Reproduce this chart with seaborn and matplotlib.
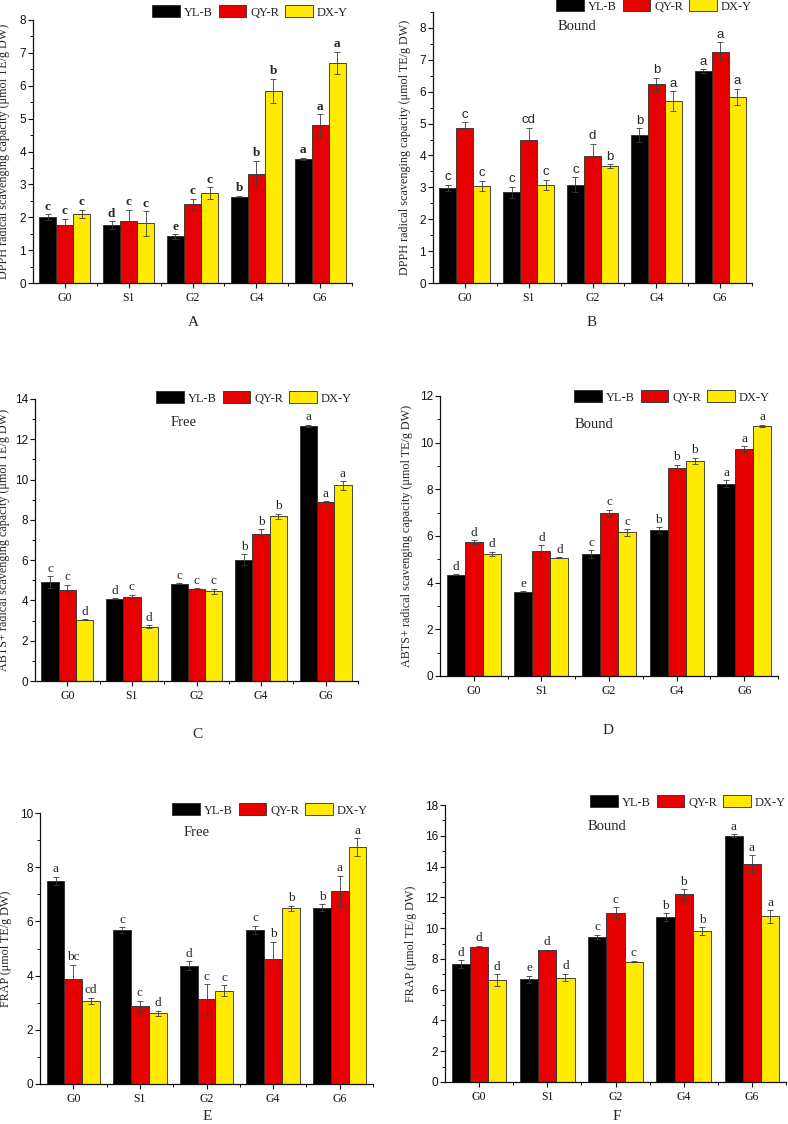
import numpy as np
import pandas as pd
import matplotlib
matplotlib.use("Agg")
import matplotlib.pyplot as plt
from matplotlib.ticker import MultipleLocator, FixedLocator
import seaborn as sns

# ---------------- data ----------------
groups = ["G0", "S1", "G2", "G4", "G6"]
cultivars = ["YL-B", "QY-R", "DX-Y"]
colors = ["#000000", "#E60000", "#FFEB00"]

# A: DPPH free
A_yl = [2.01, 1.76, 1.42, 2.63, 3.77]
A_qy = [1.77, 1.90, 2.39, 3.32, 4.81]
A_dx = [2.10, 1.81, 2.74, 5.85, 6.70]
A_yl_err = [0.09, 0.12, 0.07, 0.02, 0.04]
A_qy_err = [0.19, 0.33, 0.18, 0.40, 0.33]
A_dx_err = [0.13, 0.37, 0.18, 0.37, 0.34]
A_yl_let = ["c", "d", "e", "b", "a"]
A_qy_let = ["c", "c", "c", "b", "a"]
A_dx_let = ["c", "c", "c", "b", "a"]

# B: DPPH bound
B_yl = [2.99, 2.85, 3.08, 4.64, 6.65]
B_qy = [4.85, 4.47, 3.98, 6.24, 7.26]
B_dx = [3.05, 3.08, 3.66, 5.71, 5.84]
B_yl_err = [0.09, 0.17, 0.24, 0.21, 0.06]
B_qy_err = [0.20, 0.40, 0.39, 0.20, 0.30]
B_dx_err = [0.16, 0.16, 0.06, 0.31, 0.25]
B_yl_let = ["c", "c", "c", "b", "a"]
B_qy_let = ["c", "cd", "d", "b", "a"]
B_dx_let = ["c", "c", "b", "a", "a"]

# C: ABTS+ free
C_yl = [4.90, 4.08, 4.84, 6.03, 12.67]
C_qy = [4.52, 4.17, 4.58, 7.29, 8.91]
C_dx = [3.05, 2.70, 4.46, 8.18, 9.71]
C_yl_err = [0.30, 0.02, 0.02, 0.27, 0.06]
C_qy_err = [0.27, 0.11, 0.03, 0.25, 0.02]
C_dx_err = [0.02, 0.08, 0.13, 0.13, 0.21]
C_yl_let = ["c", "d", "c", "b", "a"]
C_qy_let = ["c", "c", "c", "b", "a"]
C_dx_let = ["d", "d", "c", "b", "a"]

# D: ABTS+ bound
D_yl = [4.35, 3.62, 5.22, 6.26, 8.25]
D_qy = [5.74, 5.35, 6.99, 8.92, 9.72]
D_dx = [5.24, 5.07, 6.16, 9.23, 10.73]
D_yl_err = [0.02, 0.02, 0.16, 0.11, 0.14]
D_qy_err = [0.07, 0.26, 0.13, 0.14, 0.13]
D_dx_err = [0.09, 0.02, 0.14, 0.13, 0.04]
D_yl_let = ["d", "e", "c", "b", "a"]
D_qy_let = ["d", "d", "c", "b", "a"]
D_dx_let = ["d", "d", "c", "b", "a"]

# E: FRAP free
E_yl = [7.49, 5.69, 4.37, 5.68, 6.51]
E_qy = [3.88, 2.86, 3.13, 4.63, 7.13]
E_dx = [3.07, 2.61, 3.44, 6.49, 8.74]
E_yl_err = [0.16, 0.10, 0.17, 0.16, 0.12]
E_qy_err = [0.52, 0.21, 0.55, 0.62, 0.55]
E_dx_err = [0.12, 0.09, 0.20, 0.09, 0.34]
E_yl_let = ["a", "c", "d", "c", "b"]
E_qy_let = ["bc", "c", "c", "b", "a"]
E_dx_let = ["cd", "d", "c", "b", "a"]

# F: FRAP bound
F_yl = [7.68, 6.68, 9.43, 10.71, 16.00]
F_qy = [8.76, 8.57, 11.00, 12.19, 14.18]
F_dx = [6.61, 6.79, 7.83, 9.82, 10.76]
F_yl_err = [0.24, 0.22, 0.15, 0.26, 0.09]
F_qy_err = [0.11, 0.03, 0.35, 0.35, 0.54]
F_dx_err = [0.39, 0.24, 0.05, 0.24, 0.41]
F_yl_let = ["d", "e", "c", "b", "a"]
F_qy_let = ["d", "d", "c", "b", "a"]
F_dx_let = ["d", "d", "c", "b", "a"]

ylab_dpph = "DPPH radical scavenging capacity (\u03bcmol TE/g DW)"
ylab_abts = "ABTS+ radical scavenging capacity (\u03bcmol TE/g DW)"
ylab_frap = "FRAP (\u03bcmol TE/g DW)"

# ---------------- style ----------------
sns.set_style("ticks")
plt.rcParams["font.family"] = ["Liberation Serif", "DejaVu Serif"]

W, H = 788, 1124
fig = plt.figure(figsize=(W / 100, H / 100), dpi=100)


def px_axes(left, right, top, bottom):
    return fig.add_axes([left / W, 1 - bottom / H, (right - left) / W, (bottom - top) / H])


panels = [
    dict(box=(33, 352, 20, 283), ylim=8, major=1, vals=(A_yl, A_qy, A_dx), errs=(A_yl_err, A_qy_err, A_dx_err),
         lets=(A_yl_let, A_qy_let, A_dx_let), ylabel=ylab_dpph, ylx=10, letfont="Liberation Serif", letw="bold",
         title=None, tag="A", tagxy=(193, 322), leg=(348, 12)),
    dict(box=(433, 752, 12, 283), ylim=8.5, major=1, vals=(B_yl, B_qy, B_dx), errs=(B_yl_err, B_qy_err, B_dx_err),
         lets=(B_yl_let, B_qy_let, B_dx_let), ylabel=ylab_dpph, ylx=411, letfont="Liberation Sans", letw="normal",
         title="Bound", titlexy=(577, 27), tag="B", tagxy=(592, 322), leg=(752, 6)),
    dict(box=(35, 358, 399, 681), ylim=14, major=2, vals=(C_yl, C_qy, C_dx), errs=(C_yl_err, C_qy_err, C_dx_err),
         lets=(C_yl_let, C_qy_let, C_dx_let), ylabel=ylab_abts, ylx=10, letfont="Liberation Serif", letw="normal",
         title="Free", titlexy=(184, 423), tag="C", tagxy=(197, 735), leg=(352, 398)),
    dict(box=(440, 778, 396, 676), ylim=12, major=2, vals=(D_yl, D_qy, D_dx), errs=(D_yl_err, D_qy_err, D_dx_err),
         lets=(D_yl_let, D_qy_let, D_dx_let), ylabel=ylab_abts, ylx=413, letfont="Liberation Serif", letw="normal",
         title="Bound", titlexy=(594, 424), tag="D", tagxy=(608, 730), leg=(770, 397)),
    dict(box=(40, 373, 813, 1084), ylim=10, major=2, vals=(E_yl, E_qy, E_dx), errs=(E_yl_err, E_qy_err, E_dx_err),
         lets=(E_yl_let, E_qy_let, E_dx_let), ylabel=ylab_frap, ylx=12, letfont="Liberation Serif", letw="normal",
         title="Free", titlexy=(197, 833), tag="E", tagxy=(207, 1117), leg=(368, 810)),
    dict(box=(445, 786, 805, 1082), ylim=18, major=2, vals=(F_yl, F_qy, F_dx), errs=(F_yl_err, F_qy_err, F_dx_err),
         lets=(F_yl_let, F_qy_let, F_dx_let), ylabel=ylab_frap, ylx=417, letfont="Liberation Serif", letw="normal",
         title="Bound", titlexy=(607, 827), tag="F", tagxy=(617, 1117), leg=(786, 802)),
]

for p in panels:
    left, right, top, bottom = p["box"]
    ax = px_axes(left, right, top, bottom)
    df = pd.DataFrame({
        "group": groups * 3,
        "cultivar": np.repeat(cultivars, len(groups)),
        "value": np.concatenate(p["vals"]),
    })
    sns.barplot(data=df, x="group", y="value", hue="cultivar", order=groups, hue_order=cultivars,
                palette=dict(zip(cultivars, colors)), saturation=1, errorbar=None, width=0.8,
                edgecolor="#2a2a2a", linewidth=0.6, ax=ax, legend=False)

    for cont, err, let in zip(ax.containers, p["errs"], p["lets"]):
        xs = [b.get_x() + b.get_width() / 2 for b in cont.patches]
        ys = [b.get_height() for b in cont.patches]
        ax.errorbar(xs, ys, yerr=err, fmt="none", ecolor="#3a3a3a", elinewidth=0.6,
                    capsize=2.5, capthick=0.6, zorder=3)
        for x, y, e, l in zip(xs, ys, err, let):
            ax.annotate(l, (x, y + e), xytext=(0, 1.0), textcoords="offset points",
                        ha="center", va="bottom", fontsize=9.5,
                        family=[p["letfont"], "DejaVu Sans"], fontweight=p["letw"])

    ax.set_xlim(-0.5, 4.5)
    ax.set_ylim(0, p["ylim"])
    ax.yaxis.set_major_locator(MultipleLocator(p["major"]))
    ax.yaxis.set_minor_locator(MultipleLocator(p["major"] / 2))
    ax.xaxis.set_minor_locator(FixedLocator([0.5, 1.5, 2.5, 3.5, 4.5]))
    ax.tick_params(axis="both", which="major", direction="out", length=3.5, width=0.8, colors="#111111")
    ax.tick_params(axis="both", which="minor", direction="out", length=2.5, width=0.7, colors="#111111")
    ax.tick_params(axis="y", labelsize=8.5, labelfontfamily="Liberation Sans", pad=1.5)
    ax.tick_params(axis="x", labelsize=8.5, pad=3)
    for s in ["top", "right"]:
        ax.spines[s].set_visible(False)
    for s in ["left", "bottom"]:
        ax.spines[s].set_linewidth(0.9)
        ax.spines[s].set_color("#111111")
    ax.set_facecolor("white")
    ax.set_xlabel("")
    ax.set_ylabel(p["ylabel"], fontsize=8.7)
    ax.yaxis.set_label_coords((p["ylx"] - left) / (right - left), 0.5)

    if p["title"]:
        tx, ty = p["titlexy"]
        fig.text(tx / W, 1 - ty / H, p["title"], ha="center", va="center", fontsize=10.5)
    gx, gy = p["tagxy"]
    fig.text(gx / W, 1 - gy / H, p["tag"], ha="center", va="center", fontsize=11)

    lx, ly = p["leg"]
    ax.legend(handles=ax.containers, labels=cultivars, ncol=3, frameon=False,
              loc="center right", bbox_to_anchor=(lx / W, 1 - ly / H), bbox_transform=fig.transFigure,
              borderpad=0, borderaxespad=0, handlelength=2.2, handleheight=1.1,
              handletextpad=0.35, columnspacing=0.45, fontsize=9)

fig.savefig("out.png", dpi=100, facecolor="white")
